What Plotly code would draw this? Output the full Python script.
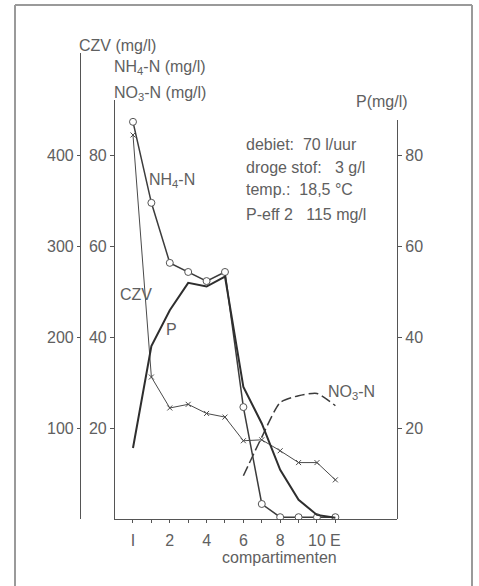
import plotly.graph_objects as go

# Compartment positions: I (0), 1..10, E (11)
compartments = [0, 1, 2, 3, 4, 5, 6, 7, 8, 9, 10, 11]
x_tickvals = [0, 2, 4, 6, 8, 10, 11]
x_ticktext = ["I", "2", "4", "6", "8", "10", "E"]
x_minor_tickvals = [1, 3, 5, 7, 9]

# Measured concentrations (mg/l)
nh4_n = [87.3, 69.5, 56.3, 54.3, 52.3, 54.3, 24.6, 3.3, 0.4, 0.4, 0.4, 0.4]
czv = [422, 156, 122, 126, 116, 112, 86, 87, 75, 62, 62, 43]
p_conc = [15.6, 38.0, 45.9, 51.9, 51.1, 53.3, 29.0, 21.0, 10.8, 4.2, 0.9, 0.3]
no3_compartments = [6, 7, 8, 9, 10, 11]
no3_n = [9.5, 18.0, 25.6, 27.1, 27.6, 24.9]

n_ticks = [20, 40, 60, 80]
czv_ticks = [100, 200, 300, 400]
p_ticks = [20, 40, 60, 80]

W, H = 479, 586
TXT = "#606060"
LINE = "#3c3c3c"
FONT = "Liberation Sans, Arial, sans-serif"


def px(x):
    return x / W


def py(y):
    return 1 - y / H


fig = go.Figure()

fig.add_trace(go.Scatter(
    x=compartments, y=p_conc, xaxis="x", yaxis="y3", mode="lines",
    line=dict(color="#2e2e2e", width=2), showlegend=False,
))
fig.add_trace(go.Scatter(
    x=no3_compartments, y=no3_n, xaxis="x", yaxis="y", mode="lines",
    line=dict(color=LINE, width=1.5, dash="10px,4px", shape="spline", smoothing=0.6),
    showlegend=False,
))
fig.add_trace(go.Scatter(
    x=compartments, y=czv, xaxis="x", yaxis="y2", mode="lines+markers",
    line=dict(color="#4a4a4a", width=1),
    marker=dict(symbol="x-thin-open", size=5, line=dict(color="#4a4a4a", width=1)),
    showlegend=False,
))
fig.add_trace(go.Scatter(
    x=compartments, y=nh4_n, xaxis="x", yaxis="y", mode="lines+markers",
    line=dict(color=LINE, width=1.5),
    marker=dict(symbol="circle", size=7, color="white", line=dict(color="#555", width=1)),
    showlegend=False,
))

axis_common = dict(
    showgrid=False, zeroline=False, showline=True, linecolor="#555", linewidth=1.2,
    ticks="outside", tickcolor="#555", tickwidth=1,
    tickfont=dict(family=FONT, size=16, color=TXT),
)

bottom = py(519)

fig.update_layout(
    width=W, height=H,
    margin=dict(l=0, r=0, t=0, b=0),
    paper_bgcolor="white", plot_bgcolor="rgba(0,0,0,0)",
    font=dict(family=FONT, size=16, color=TXT),
    xaxis=dict(
        domain=[px(115), px(397)], anchor="y", range=[-0.978, 14.35],
        tickmode="array", tickvals=x_tickvals, ticktext=x_ticktext,
        ticklen=3, ticklabelstandoff=4,
        minor=dict(tickmode="array", tickvals=x_minor_tickvals, ticks="outside",
                   ticklen=3, tickcolor="#555", tickwidth=1),
        **axis_common,
    ),
    yaxis=dict(
        domain=[bottom, py(100)], anchor="x", range=[0, 92.1],
        tickmode="array", tickvals=n_ticks, ticklen=4, **axis_common,
    ),
    yaxis2=dict(
        domain=[bottom, py(53)], anchor="free", position=px(80), range=[0, 512.1],
        tickmode="array", tickvals=czv_ticks, ticklen=3, **axis_common,
    ),
    yaxis3=dict(
        domain=[bottom, py(120)], anchor="free", position=px(397), side="right",
        range=[0, 87.7], tickmode="array", tickvals=p_ticks, ticklen=4, **axis_common,
    ),
)

# Outer drawing frame
frame = dict(type="line", xref="paper", yref="paper", line=dict(color="#9a9a9a", width=2))
fig.add_shape(**frame, x0=px(15), x1=px(15), y0=py(5), y1=0)
fig.add_shape(**frame, x0=px(15), x1=px(472), y0=py(5), y1=py(5))
fig.add_shape(**frame, x0=px(472), x1=px(472), y0=py(5), y1=0)


def label(text, x, y, anchor="left", size=16):
    fig.add_annotation(
        text=text, x=px(x), y=py(y), xref="paper", yref="paper",
        xanchor=anchor, yanchor="middle", showarrow=False,
        font=dict(family=FONT, size=size, color=TXT),
    )


# Axis headers
label("CZV (mg/l)", 77, 45)
label("NH<sub>4</sub>-N (mg/l)", 112, 68)
label("NO<sub>3</sub>-N (mg/l)", 112, 94)
label("P(mg/l)", 354, 101)

# Operating conditions
label("debiet:  70 l/uur", 244, 144)
label("droge stof:   3 g/l", 244, 167)
label("temp.:  18,5 °C", 244, 190)
label("P-eff 2   115 mg/l", 244, 214)

# Curve labels
label("NH<sub>4</sub>-N", 147, 180)
label("CZV", 118, 294)
label("P", 164, 329)
label("NO<sub>3</sub>-N", 326, 392)

# X axis title
label("compartimenten", 279, 557, anchor="center")

fig.write_html("out.html")
